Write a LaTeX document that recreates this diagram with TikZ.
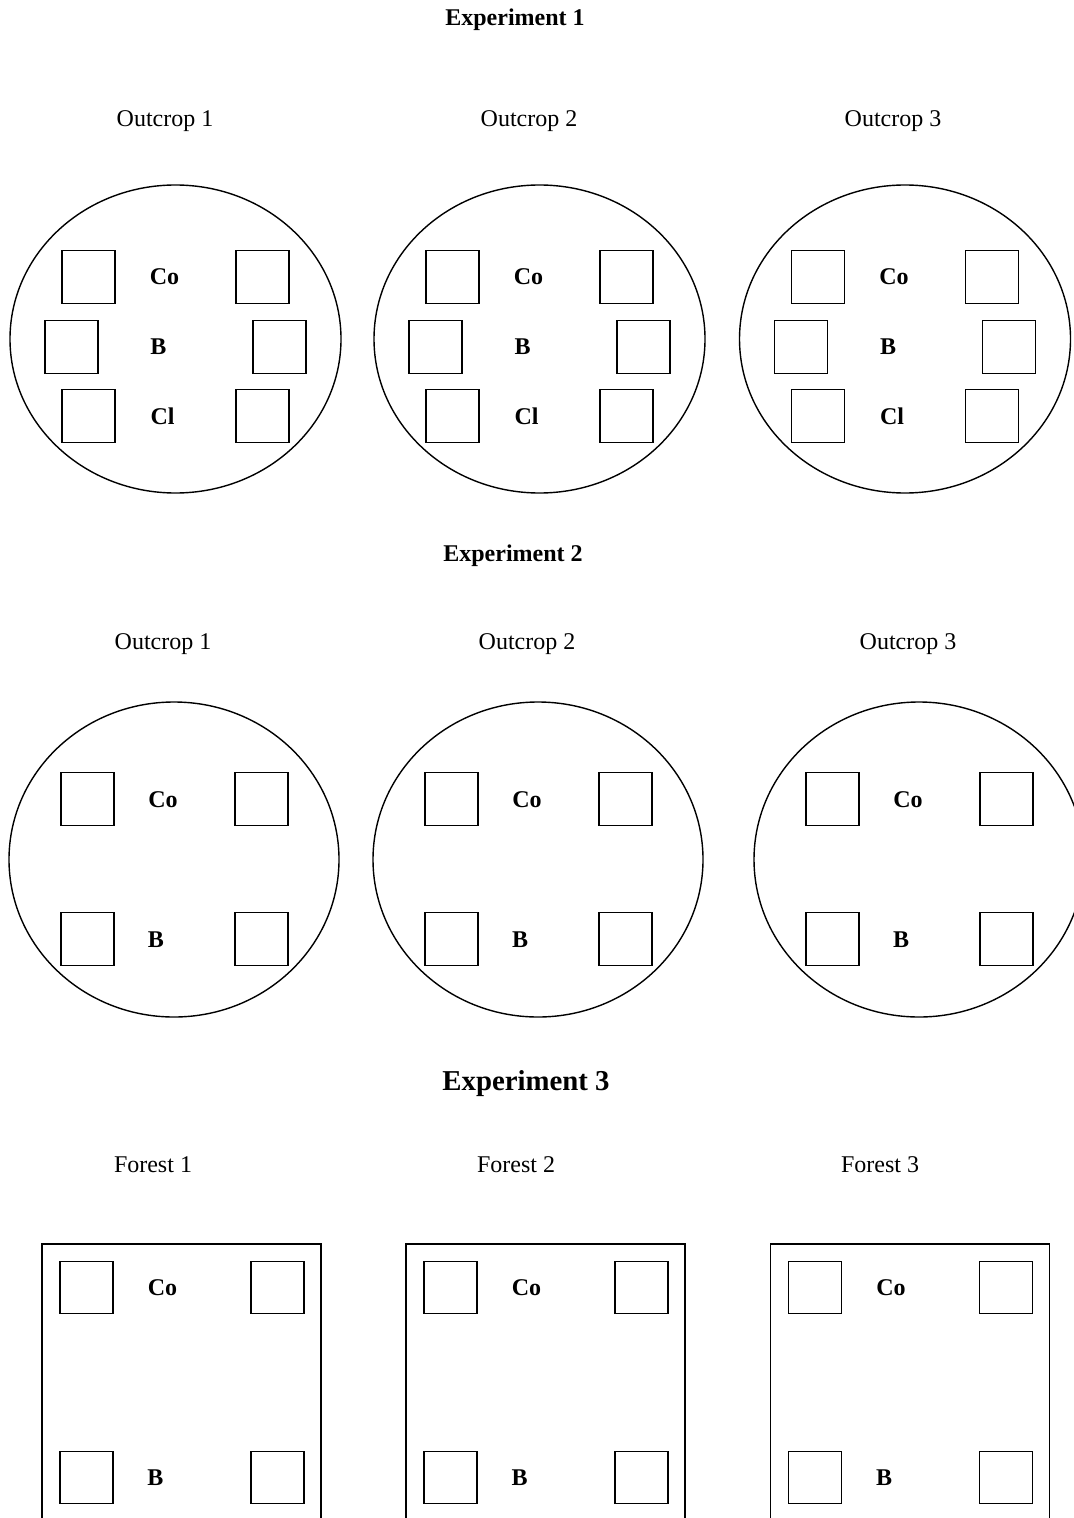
\documentclass[tikz,border=0pt]{standalone}
\usepackage{fontspec}
\setmainfont{Liberation Serif}
\tikzset{
  head/.style ={font=\fontsize{12}{14}\selectfont\bfseries,anchor=base},
  bighead/.style={font=\fontsize{14.4}{17}\selectfont\bfseries,anchor=base},
  site/.style ={font=\fontsize{12}{14}\selectfont,anchor=base},
  spec/.style ={font=\fontsize{12}{14}\selectfont\bfseries,anchor=base},
  quad/.style ={draw,line width=0.8pt,inner sep=0pt,minimum width=26.5pt,minimum height=26.5pt},
  patch/.style={draw,line width=0.7pt},
}
\begin{document}
\begin{tikzpicture}[x=0.5pt,y=-0.5pt]
  \useasboundingbox (0,0) rectangle (1074,1518);
  \clip (0,0) rectangle (1074,1518);

  % Experiment 1: three outcrops, six quadrats each
  \node[head] (e1) at (515,26) {Experiment 1};
  \foreach \i/\cx/\lx in {1/175.5/165, 2/539.5/529, 3/905/893} {
    \node[site] (oa\i) at (\lx,127) {Outcrop \i};
    \draw[patch] (\cx,339) ellipse (165.5 and 154);
    \node[quad] (qa\i tl) at (\cx-87,277) {};
    \node[quad] (qa\i tr) at (\cx+87,277) {};
    \node[quad] (qa\i ml) at (\cx-104,347) {};
    \node[quad] (qa\i mr) at (\cx+104,347) {};
    \node[quad] (qa\i bl) at (\cx-87,416) {};
    \node[quad] (qa\i br) at (\cx+87,416) {};
    \node[spec] (coa\i) at (\cx-11,285) {Co};
    \node[spec] (ba\i)  at (\cx-17,355) {B};
    \node[spec] (cla\i) at (\cx-13,424) {Cl};
  }

  % Experiment 2: three outcrops, four quadrats each
  \node[head] (e2) at (513,561) {Experiment 2};
  \foreach \i/\cx/\lx in {1/174/163, 2/538/527, 3/919/908} {
    \node[site] (ob\i) at (\lx,649) {Outcrop \i};
    \draw[patch] (\cx,859.5) ellipse (165 and 157.5);
    \node[quad] (qb\i tl) at (\cx-86.5,799) {};
    \node[quad] (qb\i tr) at (\cx+87.5,799) {};
    \node[quad] (qb\i bl) at (\cx-86.5,939) {};
    \node[quad] (qb\i br) at (\cx+87.5,939) {};
    \node[spec] (cob\i) at (\cx-11,807) {Co};
    \node[spec] (bb\i)  at (\cx-18,947) {B};
  }

  % Experiment 3: three forests, four quadrats each
  \node[bighead] (e3) at (526,1090.5) {Experiment 3};
  \foreach \i/\cx/\lx in {1/181.5/153, 2/545.5/516, 3/910/880} {
    \node[site] (fc\i) at (\lx,1172) {Forest \i};
    \draw[patch,line width=0.6pt] (\cx-139.5,1530) |- (\cx+139.5,1244) -- (\cx+139.5,1530);
    \node[quad,minimum height=26pt] (qc\i tl) at (\cx-95,1287.5) {};
    \node[quad,minimum height=26pt] (qc\i tr) at (\cx+96,1287.5) {};
    \node[quad,minimum height=26pt] (qc\i bl) at (\cx-95,1477.5) {};
    \node[quad,minimum height=26pt] (qc\i br) at (\cx+96,1477.5) {};
    \node[spec] (coc\i) at (\cx-19,1295) {Co};
    \node[spec] (bc\i)  at (\cx-26,1485) {B};
  }
\end{tikzpicture}
\end{document}
